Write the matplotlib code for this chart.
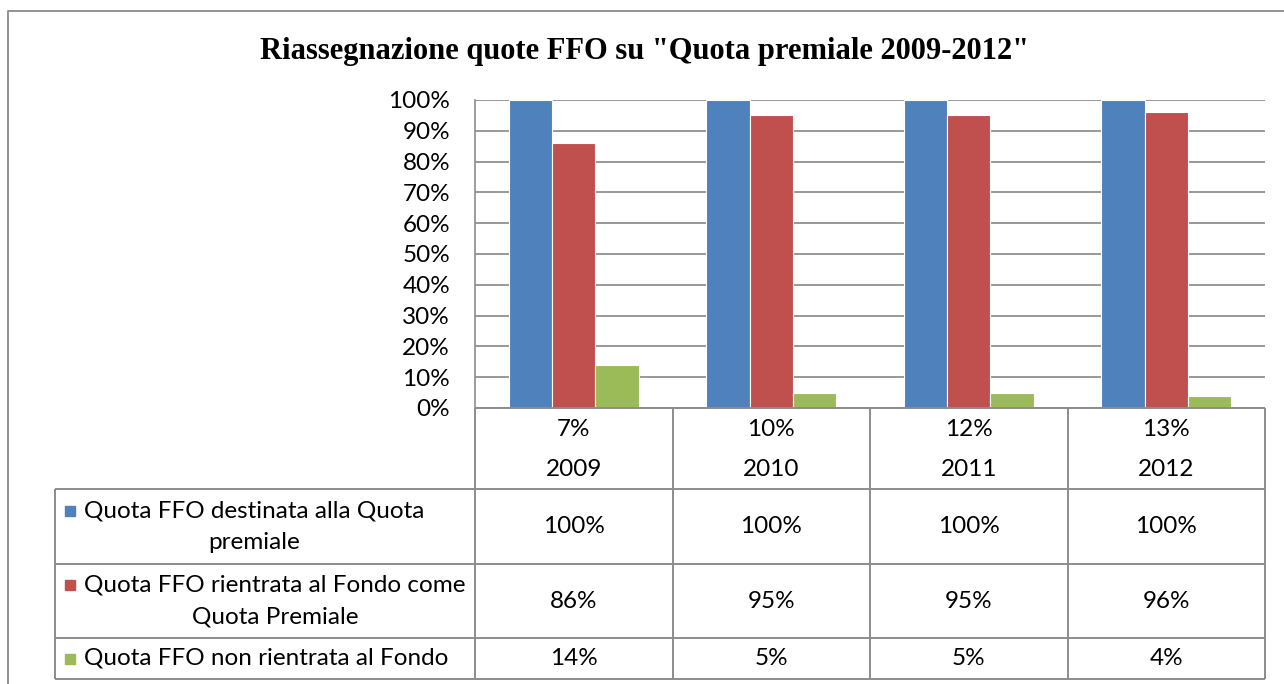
import matplotlib
matplotlib.use("Agg")
import matplotlib.pyplot as plt
from matplotlib.ticker import PercentFormatter
import numpy as np

# data
years = ["2009", "2010", "2011", "2012"]
quota_premiale = ["7%", "10%", "12%", "13%"]
destinata = [100, 100, 100, 100]
rientrata = [86, 95, 95, 96]
non_rientrata = [14, 5, 5, 4]
series_labels = ["Quota FFO destinata alla Quota\npremiale",
                 "Quota FFO rientrata al Fondo come\nQuota Premiale",
                 "Quota FFO non rientrata al Fondo"]
series_colors = ["#4F81BD", "#C0504D", "#9BBB59"]
title = 'Riassegnazione quote FFO su "Quota premiale 2009-2012"'

W, H = 1284, 684
body_font = "Lato"
fs = 17.5
line_col = "#8C8C8C"

fig = plt.figure(figsize=(W / 100, H / 100), dpi=100)

# plot area in pixels
px_l, px_r, px_t, px_b = 475, 1265, 100, 408
ax = fig.add_axes([px_l / W, 1 - px_b / H, (px_r - px_l) / W, (px_b - px_t) / H])
x = np.arange(len(years))
bw = 0.22
for k, vals in enumerate([destinata, rientrata, non_rientrata]):
    ax.bar(x + (k - 1) * bw, vals, bw, color=series_colors[k],
           edgecolor="white", linewidth=0.8, zorder=3)
ax.set_xlim(-0.5, len(years) - 0.5)
ax.set_ylim(0, 100)
ax.set_yticks(np.arange(0, 101, 10))
ax.yaxis.set_major_formatter(PercentFormatter(decimals=0))
ax.set_xticks([])
ax.grid(axis="y", color="#868686", linewidth=1.2, zorder=0)
for s in ["top", "right", "bottom"]:
    ax.spines[s].set_visible(False)
ax.spines["left"].set_color(line_col)
ax.spines["left"].set_linewidth(1.2)
ax.tick_params(axis="y", length=0, pad=18, labelsize=fs)
for lab in ax.get_yticklabels():
    lab.set_fontfamily(body_font)

# overlay in pixel coordinates for title, table and frame
ov = fig.add_axes([0, 0, 1, 1], zorder=5)
ov.set_xlim(0, W)
ov.set_ylim(H, 0)
ov.axis("off")
ov.patch.set_alpha(0)

# outer frame
ov.plot([8, 8, W], [H, 11, 11], color="#8A8A8A", lw=1.3, clip_on=False)

ov.text(645, 51, title, ha="center", va="center", fontsize=22,
        fontweight="bold", family="Liberation Serif")

# table geometry
col_edges = np.linspace(px_l, px_r, len(years) + 1)
leg_l = 55
row_edges = [408, 489, 564, 638, 679]
kw = dict(color=line_col, lw=1.4, solid_capstyle="butt")
# header row box
ov.plot([px_l, px_r], [row_edges[0], row_edges[0]], **kw)
for ce in col_edges:
    ov.plot([ce, ce], [row_edges[0], row_edges[-1]], **kw)
for re in row_edges[1:]:
    ov.plot([leg_l, px_r], [re, re], **kw)
ov.plot([leg_l, leg_l], [row_edges[1], row_edges[-1]], **kw)

centers = (col_edges[:-1] + col_edges[1:]) / 2
for i in range(len(years)):
    ov.text(centers[i], 429, quota_premiale[i], ha="center", va="center",
            fontsize=fs, family=body_font)
    ov.text(centers[i], 469, years[i], ha="center", va="center",
            fontsize=fs, family=body_font)

series_vals = [destinata, rientrata, non_rientrata]
for r in range(3):
    yc = (row_edges[r + 1] + row_edges[r + 2]) / 2
    for i in range(len(years)):
        ov.text(centers[i], yc, f"{series_vals[r][i]}%", ha="center",
                va="center", fontsize=fs, family=body_font)
    nlines = series_labels[r].count("\n") + 1
    ov.text(84, yc, series_labels[r], ha="left", va="center",
            multialignment="center", fontsize=fs, family=body_font,
            linespacing=1.6)
    my = yc - (nlines - 1) * 16
    ov.add_patch(plt.Rectangle((65, my - 5), 10, 10,
                               color=series_colors[r]))

fig.savefig("out.png", dpi=100)
